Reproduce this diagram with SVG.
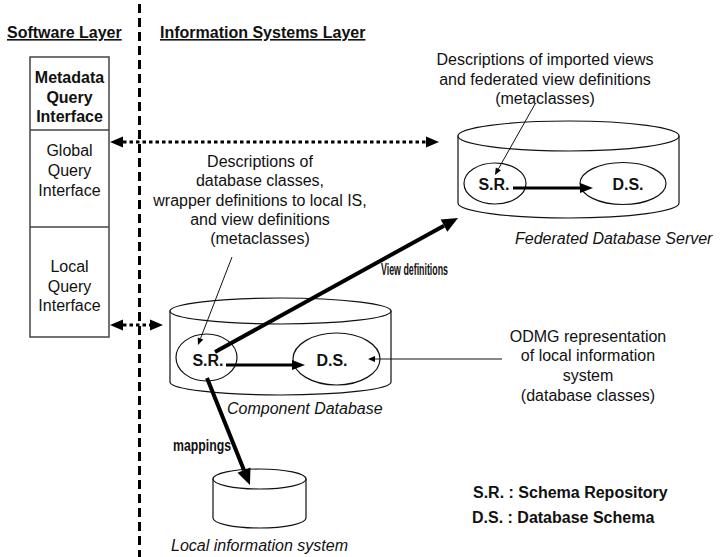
<svg xmlns="http://www.w3.org/2000/svg" width="720" height="557" viewBox="0 0 720 557">
  <style>
    text { font-family: "Liberation Sans", Arial, sans-serif; font-size: 16px; fill: #111; }
    .b { font-weight: bold; }
    .i { font-style: italic; }
    .u { text-decoration: underline; }
    .c { text-anchor: middle; }
    .shape { fill: #fff; stroke: #111; stroke-width: 1.2; }
    .box { fill: #fff; stroke: #444; stroke-width: 1.5; }
    .thin { stroke: #111; stroke-width: 1; fill: none; }
    .thick { stroke: #000; stroke-width: 4; fill: none; }
    .mid { stroke: #000; stroke-width: 3; fill: none; }
    .dot { stroke: #000; stroke-width: 3; stroke-dasharray: 3.5 3; fill: none; }
    .sep { stroke: #000; stroke-width: 3; stroke-dasharray: 9 5; fill: none; }
  </style>
  <defs>
    <marker id="headBig" markerUnits="userSpaceOnUse" markerWidth="18" markerHeight="16" refX="0" refY="7" orient="auto" overflow="visible">
      <path d="M0,0 L16,7 L0,14 Z" fill="#000"/>
    </marker>
    <marker id="headMid" markerUnits="userSpaceOnUse" markerWidth="14" markerHeight="12" refX="0" refY="5" orient="auto" overflow="visible">
      <path d="M0,0 L13,5 L0,10 Z" fill="#000"/>
    </marker>
    <marker id="headDot" markerUnits="userSpaceOnUse" markerWidth="14" markerHeight="12" refX="0" refY="5.5" orient="auto-start-reverse" overflow="visible">
      <path d="M0,0 L13,5.5 L0,11 Z" fill="#000"/>
    </marker>
    <marker id="headThin" markerUnits="userSpaceOnUse" markerWidth="8" markerHeight="7" refX="0" refY="3" orient="auto" overflow="visible">
      <path d="M0,0 L7,3 L0,6 Z" fill="#000"/>
    </marker>
  </defs>

  <!-- layer separator -->
  <line class="sep" x1="139.5" y1="4" x2="139.5" y2="557"/>

  <!-- layer headings -->
  <text class="b u" x="7" y="38">Software Layer</text>
  <text class="b u" x="160" y="38">Information Systems Layer</text>

  <!-- interface stack -->
  <g id="interfaces">
    <rect class="box" x="30" y="57" width="79" height="280"/>
    <line class="box" x1="30" y1="130" x2="109" y2="130"/>
    <line class="box" x1="30" y1="227" x2="109" y2="227"/>
    <g id="metadata-query-interface">
      <text class="b c" x="69.5" y="83">Metadata</text>
      <text class="b c" x="69.5" y="103">Query</text>
      <text class="b c" x="69.5" y="122">Interface</text>
    </g>
    <g id="global-query-interface">
      <text class="c" x="69.5" y="156">Global</text>
      <text class="c" x="69.5" y="176">Query</text>
      <text class="c" x="69.5" y="196">Interface</text>
    </g>
    <g id="local-query-interface">
      <text class="c" x="69.5" y="272">Local</text>
      <text class="c" x="69.5" y="292">Query</text>
      <text class="c" x="69.5" y="311">Interface</text>
    </g>
  </g>

  <!-- federated database server -->
  <g id="federated-db">
    <path class="shape" d="M458,136 L458,203 A110.5,15 0 0 0 679,203 L679,136 Z"/>
    <ellipse class="shape" cx="568.5" cy="136" rx="110.5" ry="15"/>
    <ellipse class="shape" cx="495" cy="183.5" rx="31" ry="20.5"/>
    <ellipse class="shape" cx="623" cy="183.5" rx="43" ry="21"/>
    <text class="b c" x="494" y="190">S.R.</text>
    <text class="b c" x="628" y="190">D.S.</text>
    <text class="i" x="515" y="244">Federated Database Server</text>
  </g>

  <!-- component database -->
  <g id="component-db">
    <path class="shape" d="M170,311 L170,382 A110.5,13 0 0 0 391,382 L391,311 Z"/>
    <ellipse class="shape" cx="280.5" cy="311" rx="110.5" ry="13"/>
    <ellipse class="shape" cx="206.5" cy="357.5" rx="30.5" ry="23.5"/>
    <ellipse class="shape" cx="336.5" cy="359" rx="43.5" ry="26"/>
    <text class="b c" x="208" y="366">S.R.</text>
    <text class="b c" x="332" y="366">D.S.</text>
    <text class="i" x="227" y="414">Component Database</text>
  </g>

  <!-- local information system -->
  <g id="local-is">
    <path class="shape" d="M213,479 L213,518 A46.5,10 0 0 0 306,518 L306,479 Z"/>
    <ellipse class="shape" cx="259.5" cy="479" rx="46.5" ry="10"/>
    <text class="i" x="171" y="551">Local information system</text>
  </g>

  <!-- annotations -->
  <g id="note-federated">
    <text class="c" x="545" y="65">Descriptions of imported views</text>
    <text class="c" x="545" y="85">and federated view definitions</text>
    <text class="c" x="545" y="104">(metaclasses)</text>
  </g>
  <g id="note-component">
    <text class="c" x="260" y="167">Descriptions of</text>
    <text class="c" x="260" y="186">database classes,</text>
    <text class="c" x="260" y="206">wrapper definitions to local IS,</text>
    <text class="c" x="260" y="225">and view definitions</text>
    <text class="c" x="260" y="244">(metaclasses)</text>
  </g>
  <g id="note-odmg">
    <text class="c" x="588" y="342">ODMG representation</text>
    <text class="c" x="588" y="361">of local information</text>
    <text class="c" x="588" y="381">system</text>
    <text class="c" x="588" y="401">(database classes)</text>
  </g>
  <g id="legend">
    <text class="b" x="473" y="498">S.R. : Schema Repository</text>
    <text class="b" x="472" y="523">D.S. : Database Schema</text>
  </g>

  <!-- connectors -->
  <g id="connectors">
    <line class="dot" x1="123" y1="142" x2="426" y2="142" marker-start="url(#headDot)" marker-end="url(#headDot)"/>
    <line class="dot" x1="123" y1="325" x2="150" y2="325" marker-start="url(#headDot)" marker-end="url(#headDot)"/>
    <line class="mid" x1="513" y1="188" x2="580" y2="188" marker-end="url(#headMid)"/>
    <line class="mid" x1="226" y1="365" x2="292" y2="365" marker-end="url(#headMid)"/>
    <line class="thick" x1="215" y1="352" x2="444" y2="225.7" marker-end="url(#headBig)"/>
    <line class="thick" x1="207" y1="378" x2="244" y2="470.2" marker-end="url(#headBig)"/>
    <line class="thin" x1="535" y1="104" x2="498.4" y2="168.9" marker-end="url(#headThin)"/>
    <line class="thin" x1="232" y1="257" x2="200.5" y2="338.5" marker-end="url(#headThin)"/>
    <line class="thin" x1="502" y1="359" x2="375" y2="359" marker-end="url(#headThin)"/>
    <text class="b" x="381" y="275" font-size="15" textLength="67" lengthAdjust="spacingAndGlyphs">View definitions</text>
    <text class="b" x="173" y="451" font-size="15" textLength="58" lengthAdjust="spacingAndGlyphs">mappings</text>
  </g>
</svg>
